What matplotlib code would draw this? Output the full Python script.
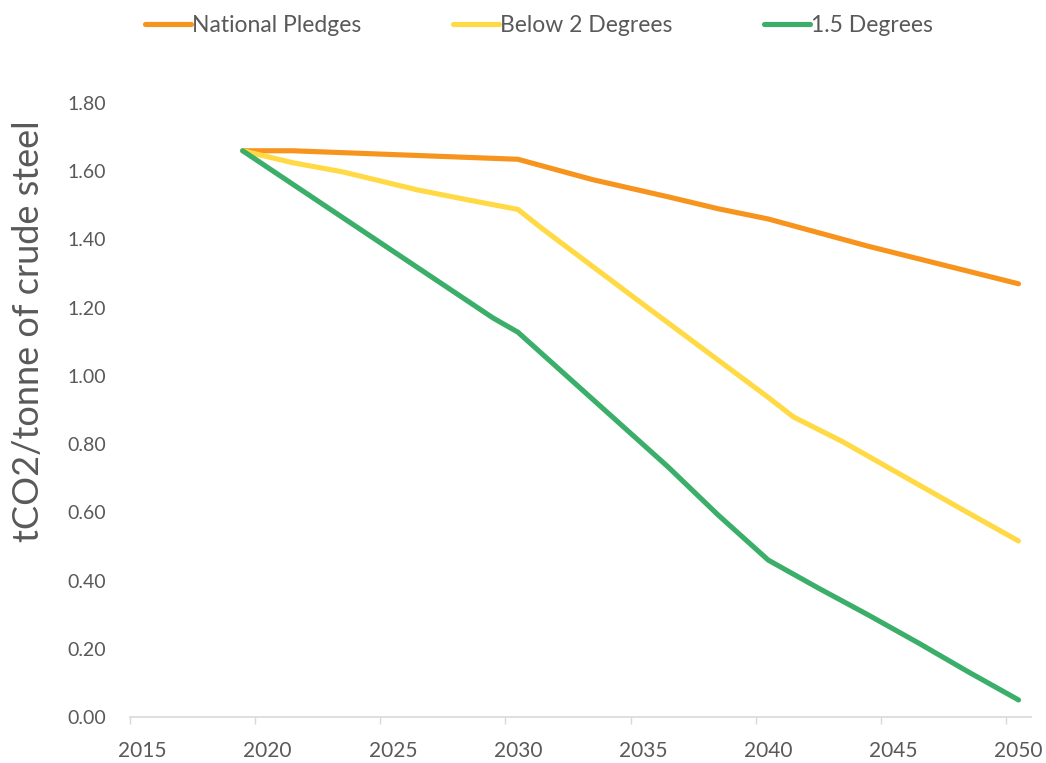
import matplotlib
matplotlib.use("Agg")
from matplotlib import pyplot as plt
from matplotlib.ticker import FixedLocator

# Values (tCO2 per tonne of crude steel)
pledge_years = [2019, 2021, 2030, 2033, 2036, 2038, 2040, 2041, 2044, 2047, 2050]
pledge_vals = [1.66, 1.66, 1.635, 1.575, 1.525, 1.49, 1.46, 1.44, 1.38, 1.325, 1.27]

below2_years = [2019, 2021, 2023, 2026, 2028, 2030, 2031, 2033, 2035, 2040, 2041, 2043, 2048, 2050]
below2_vals = [1.66, 1.625, 1.598, 1.545, 1.516, 1.488, 1.43, 1.32, 1.21, 0.937, 0.88, 0.806, 0.598, 0.516]

deg15_years = [2019, 2029, 2030, 2036, 2038, 2040, 2042, 2044, 2046, 2048, 2050]
deg15_vals = [1.66, 1.17, 1.128, 0.733, 0.592, 0.46, 0.378, 0.299, 0.217, 0.132, 0.05]

labels = ["National Pledges", "Below 2 Degrees", "1.5 Degrees"]
colors = ["#F7941D", "#FFDA44", "#3BAF6A"]

x_labels = [2015, 2020, 2025, 2030, 2035, 2040, 2045, 2050]
y_ticks = [0.0, 0.2, 0.4, 0.6, 0.8, 1.0, 1.2, 1.4, 1.6, 1.8]

plt.rcParams['font.family'] = ['Lato', 'DejaVu Sans']
grey = "#595959"

fig = plt.figure(figsize=(10.46, 7.63), dpi=100)
ax = fig.add_axes([0.1243, 0.0603, 0.8614, 0.8047])

series = [(pledge_years, pledge_vals), (below2_years, below2_vals), (deg15_years, deg15_vals)]
for (xs, ys), lab, col in zip(series, labels, colors):
    ax.plot(xs, ys, color=col, lw=3.7, label=lab, solid_capstyle="round", solid_joinstyle="round")

ax.set_xlim(2014.5, 2050.5)
ax.set_ylim(0, 1.8)

# year labels centred on categories, tick marks between them
ax.xaxis.set_major_locator(FixedLocator(x_labels))
ax.xaxis.set_minor_locator(FixedLocator([x - 0.5 for x in x_labels]))
ax.tick_params(axis="x", which="major", length=0, pad=17, labelsize=15, labelcolor=grey)
ax.tick_params(axis="x", which="minor", length=5, width=1, color="#d9d9d9")

ax.set_yticks(y_ticks)
ax.set_yticklabels([f"{v:.2f}" for v in y_ticks])
ax.tick_params(axis="y", length=0, pad=17, labelsize=14, labelcolor=grey)

for side in ["left", "right", "top"]:
    ax.spines[side].set_visible(False)
ax.spines["bottom"].set_color("#d9d9d9")
ax.spines["bottom"].set_linewidth(1.2)

ax.set_ylabel("tCO2/tonne of crude steel", fontsize=26, color=grey)
ax.yaxis.set_label_coords(-0.094, 0.629)

fig.legend(loc="center", bbox_to_anchor=(0.515, 0.967), ncol=3, frameon=False,
           fontsize=16.5, handlelength=2.0, handletextpad=0.05, columnspacing=4.0,
           labelcolor=grey)

fig.savefig("out.png", dpi=100)
